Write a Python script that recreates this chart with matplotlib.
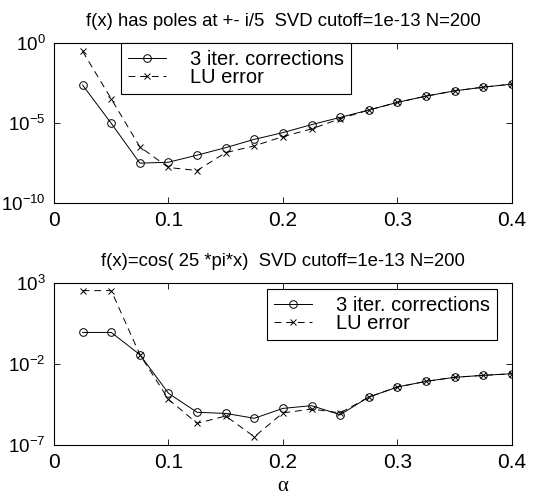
import numpy as np
import matplotlib
matplotlib.use("Agg")
import matplotlib.pyplot as plt

plt.rcParams['font.family'] = ['Liberation Sans', 'DejaVu Sans']
plt.rcParams['mathtext.fontset'] = 'custom'
plt.rcParams['mathtext.rm'] = 'Liberation Sans'

alpha = [0.025, 0.05, 0.075, 0.1, 0.125, 0.15, 0.175, 0.2, 0.225, 0.25,
         0.275, 0.3, 0.325, 0.35, 0.375, 0.4]

# top panel: log10 of errors, poles at +- i/5
poles_iter = [-2.63, -5.02, -7.51, -7.45, -7.01, -6.54, -6.02, -5.60, -5.10, -4.65,
              -4.19, -3.71, -3.32, -2.99, -2.76, -2.57]
poles_lu = [-0.52, -3.49, -6.49, -7.78, -7.97, -6.85, -6.43, -5.85, -5.37, -4.73,
            -4.19, -3.71, -3.32, -2.99, -2.76, -2.57]

# bottom panel: cos(25*pi*x)
cos_iter = [-0.05, -0.05, -1.42, -3.81, -4.98, -5.05, -5.35, -4.74, -4.57, -5.13,
            -4.04, -3.42, -3.07, -2.82, -2.70, -2.60]
cos_lu = [2.53, 2.53, -1.42, -4.18, -5.66, -5.21, -6.49, -5.02, -4.78, -5.02,
          -4.04, -3.42, -3.07, -2.82, -2.70, -2.60]

fig = plt.figure(figsize=(5.55, 4.96), dpi=100)
ax1 = fig.add_axes([0.0973, 0.5907, 0.825, 0.3226])
ax2 = fig.add_axes([0.0973, 0.1028, 0.825, 0.3266])


def panel(ax, x, it, lu, ylim, yticks, title, legend_anchor):
    ax.semilogy(x, 10.0 ** np.array(it), 'k-', marker='o', mfc='none',
                ms=5.5, lw=0.7, mew=0.7, label='3 iter. corrections')
    ax.semilogy(x, 10.0 ** np.array(lu), 'k--', marker='x', ms=4,
                lw=0.7, mew=0.7, dashes=(7, 5), label='LU error')
    ax.set_xlim(0, 0.4)
    ax.set_ylim(*ylim)
    ax.set_yticks(yticks)
    ax.minorticks_off()
    ax.set_xticks([0, 0.1, 0.2, 0.3, 0.4])
    ax.set_xticklabels(['0', '0.1', '0.2', '0.3', '0.4'], fontsize=15)
    ax.tick_params(direction='in', top=True, right=True,
                   length=4, width=0.6, pad=6)
    ax.tick_params(axis='y', labelsize=13.5)
    for s in ax.spines.values():
        s.set_linewidth(0.8)
    ax.set_title(title, fontsize=13.3, pad=12)
    leg = ax.legend(loc='upper left', bbox_to_anchor=legend_anchor,
                    fontsize=14.5, fancybox=False, framealpha=1,
                    edgecolor='black', handlelength=1.9, handletextpad=1.2,
                    borderpad=0.35, labelspacing=-0.05, borderaxespad=0)
    leg.get_frame().set_linewidth(0.8)


panel(ax1, alpha, poles_iter, poles_lu, (1e-10, 1e0), [1e-10, 1e-5, 1e0],
      'f(x) has poles at +- i/5  SVD cutoff=1e-13 N=200', (0.146, 1.0))
panel(ax2, alpha, cos_iter, cos_lu, (1e-7, 1e3), [1e-7, 1e-2, 1e3],
      'f(x)=cos( 25 *pi*x)  SVD cutoff=1e-13 N=200', (0.465, 0.963))
ax2.set_xlabel('α', fontsize=15, family='Liberation Serif', labelpad=3)

fig.savefig('out.png', dpi=100)
